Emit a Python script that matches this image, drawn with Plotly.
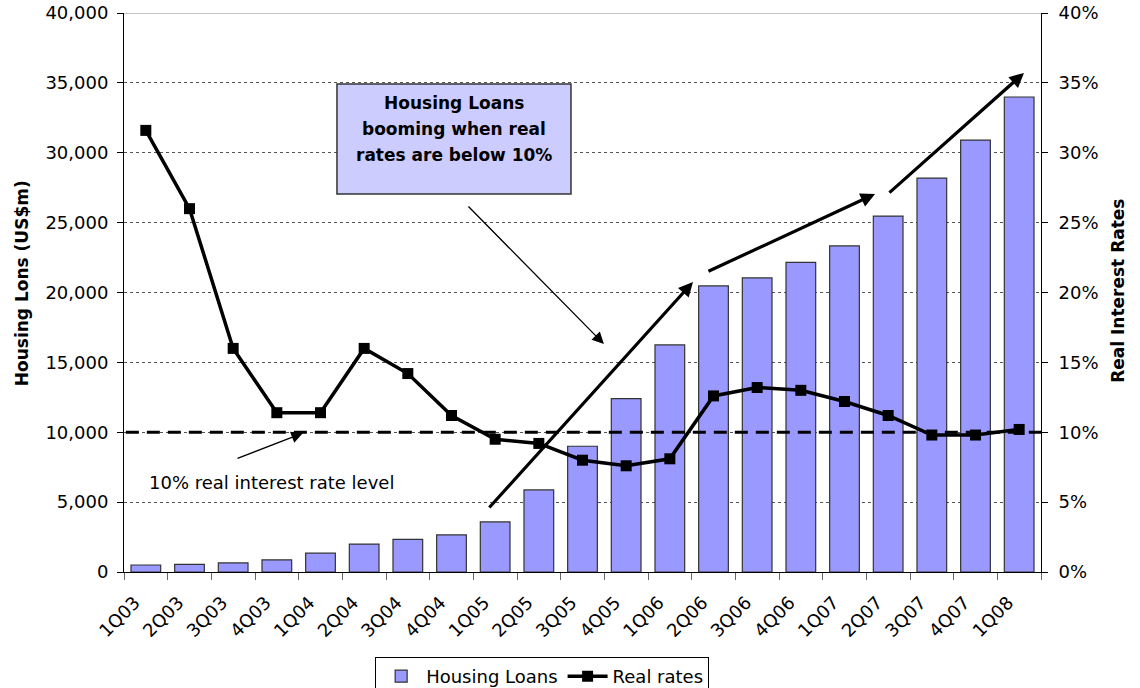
import plotly.graph_objects as go

# Quarterly housing loans (US$m) and real interest rates
quarters = ["1Q03", "2Q03", "3Q03", "4Q03", "1Q04", "2Q04", "3Q04", "4Q04",
            "1Q05", "2Q05", "3Q05", "4Q05", "1Q06", "2Q06", "3Q06", "4Q06",
            "1Q07", "2Q07", "3Q07", "4Q07", "1Q08"]
housing_loans = [500, 550, 650, 870, 1350, 2000, 2330, 2650,
                 3580, 5870, 9000, 12400, 16250, 20470, 21040, 22150,
                 23330, 25470, 28190, 30910, 33990]
real_rates = [0.316, 0.260, 0.160, 0.114, 0.114, 0.160, 0.142, 0.112,
              0.095, 0.092, 0.080, 0.076, 0.081, 0.126, 0.132, 0.130,
              0.122, 0.112, 0.098, 0.098, 0.102]
left_ticks = [0, 5000, 10000, 15000, 20000, 25000, 30000, 35000, 40000]
right_ticks = [0, 0.05, 0.10, 0.15, 0.20, 0.25, 0.30, 0.35, 0.40]
threshold = 0.10

FONT = "DejaVu Sans"

fig = go.Figure()
fig.add_trace(go.Bar(
    x=quarters, y=housing_loans, name="Housing Loans",
    marker=dict(color="#9999ff", line=dict(color="#333333", width=1.2)),
    width=0.68,
))
fig.add_trace(go.Scatter(
    x=quarters, y=real_rates, name="Real rates", yaxis="y2",
    mode="lines+markers",
    line=dict(color="black", width=3.5),
    marker=dict(symbol="square", size=11, color="black"),
))

# Solid top edge of the plot area
fig.add_shape(type="line", xref="paper", x0=0, x1=1, yref="y",
              y0=40000, y1=40000, layer="below",
              line=dict(color="#888888", width=1))

# 10% real-rate reference line
fig.add_shape(type="line", xref="paper", x0=0.002, x1=1, yref="y2",
              y0=threshold, y1=threshold, layer="above",
              line=dict(color="black", width=3, dash="13px,8px"))

# Callout box
fig.add_shape(type="rect", xref="x", yref="y", x0=4.377, x1=9.736,
              y0=27050, y1=34920, layer="above",
              fillcolor="#ccccff", line=dict(color="#333333", width=1.5))
for txt, yy in [("Housing Loans", 33560), ("booming when real", 31700),
                ("rates are below 10%", 29840)]:
    fig.add_annotation(x=7.056, y=yy, xref="x", yref="y", text=f"<b>{txt}</b>",
                       showarrow=False, font=dict(family=FONT, size=17, color="black"),
                       xanchor="center", yanchor="middle")

# Arrows: (tail_x, tail_y, head_x, head_y, width, size)
arrows = [
    (7.354, 26260, 10.49, 16315, 1.3, 1.8),
    (2.065, 8086, 3.60, 9946, 1.3, 1.8),
    (7.835, 4508, 12.53, 20750, 3.2, 0.9),
    (12.85, 21470, 16.70, 27050, 3.2, 0.9),
    (16.995, 27050, 20.11, 35710, 3.2, 0.9),
]
for tx, ty, hx, hy, w, s in arrows:
    fig.add_annotation(x=hx, y=hy, ax=tx, ay=ty, xref="x", yref="y",
                       axref="x", ayref="y", text="", showarrow=True,
                       arrowhead=2, arrowwidth=w, arrowsize=s,
                       arrowcolor="black", standoff=0, startstandoff=0)

fig.add_annotation(x=2.878, y=6370, xref="x", yref="y",
                   text="10% real interest rate level", showarrow=False,
                   font=dict(family=FONT, size=18, color="black"),
                   xanchor="center", yanchor="middle")

# Axis titles
fig.add_annotation(x=-0.111, y=0.517, xref="paper", yref="paper",
                   text="<b>Housing Lons (US$m)</b>", textangle=-90,
                   showarrow=False, font=dict(family=FONT, size=17, color="black"),
                   xanchor="center", yanchor="middle")
fig.add_annotation(x=1.084, y=0.503, xref="paper", yref="paper",
                   text="<b>Real Interest Rates</b>", textangle=-90,
                   showarrow=False, font=dict(family=FONT, size=17, color="black"),
                   xanchor="center", yanchor="middle")

fig.update_layout(
    width=1140, height=688,
    margin=dict(l=124, r=99, t=13, b=116, autoexpand=False),
    paper_bgcolor="white", plot_bgcolor="white",
    font=dict(family=FONT, size=18, color="black"),
    bargap=0.32,
    showlegend=True,
    legend=dict(orientation="h", x=0.456, xanchor="center", y=-0.152,
                yanchor="top", bordercolor="black", borderwidth=1,
                font=dict(family=FONT, size=18), traceorder="normal",
                itemwidth=40),
    xaxis=dict(type="category", range=[-0.5, 20.5], tickangle=-45,
               tickson="boundaries", ticks="outside", ticklen=7,
               tickcolor="#666666", showline=True, linecolor="black",
               linewidth=1, showgrid=False, tickfont=dict(size=18),
               ticklabelstandoff=12, ticklabelshift=-11),
    yaxis=dict(range=[0, 40000], tickvals=left_ticks, tickformat=",",
               ticks="outside", ticklen=6, tickcolor="black",
               showline=True, linecolor="black", linewidth=1,
               showgrid=True, gridcolor="#555555", griddash="dot",
               gridwidth=1, zeroline=False, tickfont=dict(size=18),
               ticklabelstandoff=5),
    yaxis2=dict(range=[0, 0.40], tickvals=right_ticks, tickformat=".0%",
                overlaying="y", side="right", ticks="outside", ticklen=6,
                tickcolor="black", showline=True, linecolor="black",
                linewidth=1, showgrid=False, zeroline=False,
                tickfont=dict(size=18), ticklabelstandoff=7),
)

fig.write_html("out.html")
